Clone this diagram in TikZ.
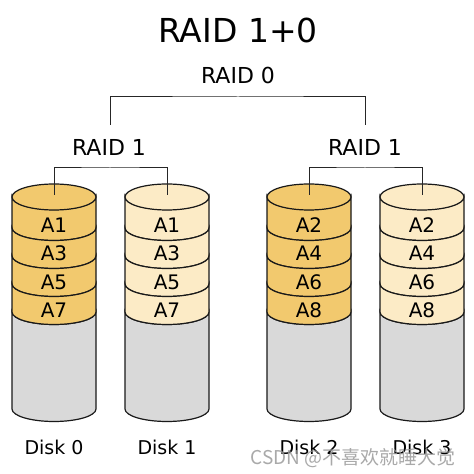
\documentclass[tikz,border=0pt]{standalone}
\usepackage{fontspec}
\setmainfont{DejaVu Sans}
\newfontfamily\cjkfont{Noto Sans CJK SC}
\definecolor{darkband}{HTML}{F2C96E}
\definecolor{lightband}{HTML}{FCEBC6}
\definecolor{diskgray}{HTML}{D9D9D9}
\definecolor{wmgray}{HTML}{9A9A9A}
\tikzset{
  lbl/.style={inner sep=0pt, font=\fontsize{20}{22}\selectfont},
  raidlbl/.style={inner sep=0pt, font=\fontsize{22}{24}\selectfont},
  disklbl/.style={inner sep=0pt, font=\fontsize{19}{21}\selectfont},
  conn/.style={draw=black!85, line width=1pt},
  outline/.style={draw=black!90, line width=1.2pt},
}
% \diskcyl{cx}{bandcolor}{name}{l1}{l2}{l3}{l4}
\newcommand{\diskcyl}[7]{%
  \def\cx{#1}%
  % gray body
  \path[outline, fill=diskgray] (\cx-42,162) -- (\cx-42,65) arc[start angle=180,end angle=360,x radius=42,y radius=12.5] -- (\cx+42,162) arc[start angle=360,end angle=180,x radius=42,y radius=12.5] -- cycle;
  % bands
  \foreach \a/\b in {277/246,246/218,218/190,190/162}{%
    \path[outline, fill=#2] (\cx-42,\a) -- (\cx-42,\b) arc[start angle=180,end angle=360,x radius=42,y radius=12.5] -- (\cx+42,\a) arc[start angle=360,end angle=180,x radius=42,y radius=12.5] -- cycle;
  }
  % top ellipse
  \path[outline, fill=#2] (\cx,277) ellipse[x radius=42,y radius=13];
  \coordinate (#3t) at (\cx,279);
  \node[lbl] (#3a) at (\cx,249) {#4};
  \node[lbl] (#3b) at (\cx,221) {#5};
  \node[lbl] (#3c) at (\cx,192) {#6};
  \node[lbl] (#3d) at (\cx,164) {#7};
}
\begin{document}
\begin{tikzpicture}[x=1pt,y=1pt]
\useasboundingbox[fill=white] (0,0) rectangle (474,474);

\node[inner sep=0pt, font=\fontsize{33}{36}\selectfont] (title) at (238,444) {RAID 1+0};
\node[raidlbl] (raid0) at (238,399) {RAID 0};
\node[raidlbl] (raid1a) at (109,327) {RAID 1};
\node[raidlbl] (raid1b) at (365,327) {RAID 1};

\coordinate (b0) at (238,377);
\coordinate (r1aT) at (110,349);
\coordinate (r1bT) at (365,349);
\draw[conn] (r1aT) |- (b0) -| (r1bT);

\diskcyl{54}{darkband}{d0}{A1}{A3}{A5}{A7}
\diskcyl{167}{lightband}{d1}{A1}{A3}{A5}{A7}
\diskcyl{309}{darkband}{d2}{A2}{A4}{A6}{A8}
\diskcyl{422}{lightband}{d3}{A2}{A4}{A6}{A8}

\coordinate (m1) at (110,306);
\coordinate (m2) at (365,306);
\draw[conn] (d0t) |- (m1) -| (d1t);
\draw[conn] (d2t) |- (m2) -| (d3t);

\node[disklbl] (disk0) at (54,27) {Disk 0};
\node[disklbl] (disk1) at (167,27) {Disk 1};
\node[disklbl] (disk2) at (309,27) {Disk 2};
\node[disklbl] (disk3) at (422,27) {Disk 3};

\node[inner sep=0pt, text=wmgray, opacity=0.85, font=\cjkfont\fontsize{19}{21}\selectfont] (wm) at (353,16) {CSDN @不喜欢就睡大觉};
\end{tikzpicture}
\end{document}
